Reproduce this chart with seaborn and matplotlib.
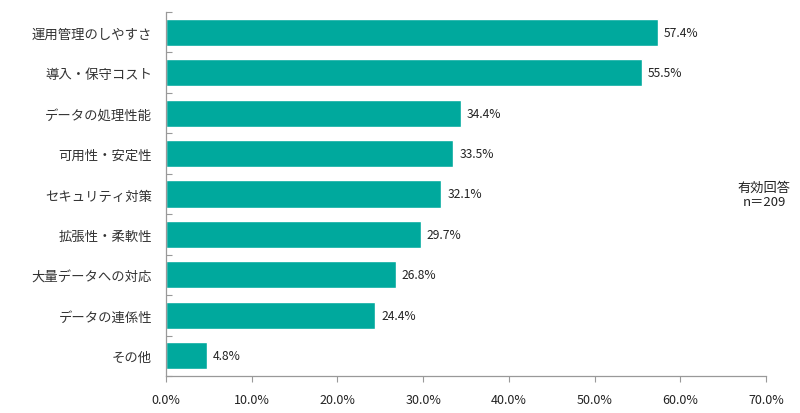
import matplotlib
matplotlib.use("Agg")
import matplotlib.pyplot as plt
import seaborn as sns
import pandas as pd
from matplotlib.ticker import FixedLocator

categories = ["運用管理のしやすさ", "導入・保守コスト", "データの処理性能", "可用性・安定性",
              "セキュリティ対策", "拡張性・柔軟性", "大量データへの対応", "データの連係性", "その他"]
values = [57.4, 55.5, 34.4, 33.5, 32.1, 29.7, 26.8, 24.4, 4.8]
xticks = [0, 10, 20, 30, 40, 50, 60, 70]
note = "有効回答\nn＝209"

sns.set_theme(style="white")
plt.rcParams['font.family'] = ['Noto Sans CJK JP', 'DejaVu Sans']

df = pd.DataFrame({"cat": categories, "val": values})
fig = plt.figure(figsize=(8, 4.14), dpi=100)
ax = fig.add_axes([0.2075, 0.0894, 0.75, 0.8792])
sns.barplot(data=df, y="cat", x="val", color="#00A99D", width=0.67, ax=ax, saturation=1)

ax.set_xlim(0, 70)
ax.set_ylim(len(categories) - 0.5, -0.5)
ax.set_xticks(xticks)
ax.set_xticklabels([f"{t:.1f}%" for t in xticks], fontsize=9, color="#222222")
ax.set_xlabel("")
ax.set_ylabel("")
ax.tick_params(axis="y", which="major", left=False, length=0, labelsize=9.6, labelcolor="#333333", pad=10)
ax.yaxis.set_minor_locator(FixedLocator([i - 0.5 for i in range(len(categories) + 1)]))
ax.tick_params(axis="y", which="minor", left=True, direction="in", length=4, color="#999999", width=0.8)
ax.tick_params(axis="x", which="major", bottom=True, direction="out", length=4, color="#999999", width=0.8, pad=8)
for s in ["top", "right"]:
    ax.spines[s].set_visible(False)
for s in ["left", "bottom"]:
    ax.spines[s].set_color("#999999")
    ax.spines[s].set_linewidth(0.9)

for i, v in enumerate(values):
    ax.text(v + 0.7, i, f"{v:.1f}%", va="center", ha="left", fontsize=8.7, color="#222222")

fig.text(0.955, 0.528, note, ha="center", va="center", fontsize=9.5, color="#222222", linespacing=1.2)

fig.savefig("out.png", dpi=100)
